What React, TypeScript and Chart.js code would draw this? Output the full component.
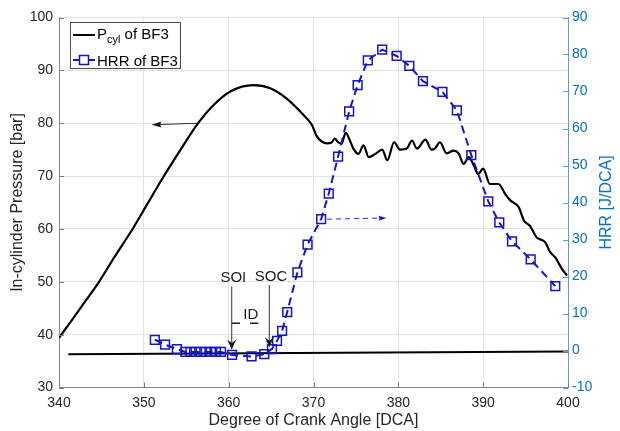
import React, { useEffect, useRef } from 'react';
import { Chart, registerables } from 'chart.js';

Chart.register(...registerables);

const FONT = "'Liberation Sans', Arial, Helvetica, sans-serif";
const TEXT = '#262626';
const AXIS_BLUE = '#0072BD';
const HRR_BLUE = '#1414cc';

// In-cylinder pressure of BF3 [bar] vs crank angle [DCA]
const pcylAngle = [
  340.0, 341.5, 343.0, 344.6, 346.5, 348.6, 350.3, 352.1, 354.3, 356.4, 358.2, 360.2, 362.9,
  364.9, 366.8, 368.8, 369.8, 370.4, 371.0, 371.6, 372.1, 372.5, 372.9, 373.3, 373.8, 374.3,
  374.7, 375.3, 375.9, 376.5, 377.3, 378.1, 378.7, 379.5, 380.2, 381.0, 381.6, 382.2, 383.2,
  383.9, 384.3, 384.9, 385.7, 386.5, 387.1, 387.7, 388.3, 388.9, 389.4, 390.0, 390.8, 391.8,
  392.6, 393.2, 394.2, 394.8, 395.5, 396.3, 397.3, 397.9, 398.5, 399.3, 399.9,
];
const pcylBar = [
  39.4, 42.7, 46.1, 49.7, 54.6, 59.8, 64.4, 69.3, 74.9, 80.0, 83.4, 86.0, 87.2,
  86.6, 84.7, 81.6, 79.7, 77.5, 76.5, 76.2, 76.3, 77.1, 76.4, 76.1, 78.2, 76.7,
  75.2, 74.2, 75.8, 73.6, 74.2, 75.0, 73.0, 76.4, 75.0, 75.2, 76.7, 75.2, 76.9,
  75.0, 75.2, 76.4, 74.3, 74.8, 74.3, 72.3, 73.6, 72.0, 70.4, 71.4, 68.5, 68.5,
  66.6, 65.4, 64.1, 61.6, 60.6, 58.4, 57.5, 55.6, 54.6, 52.4, 51.2,
];

// Heat release rate of BF3 [J/DCA]
const hrrAngle = [
  351.3, 352.5, 353.9, 354.9, 355.5, 356.1, 356.7, 357.3, 357.9, 358.5, 359.1, 360.4, 362.7,
  364.2, 365.1, 365.7, 366.3, 366.9, 368.1, 369.3, 370.9, 371.8, 372.9, 374.2, 375.2, 376.4,
  378.1, 379.8, 381.3, 382.9, 385.2, 386.9, 388.6, 390.6, 391.9, 393.4, 395.6, 398.5,
];
const hrrValue = [
  2.9, 1.6, 0.4, -0.4, -0.4, -0.4, -0.4, -0.4, -0.4, -0.4, -0.4, -1.2, -1.6,
  -1.0, 0.4, 2.6, 5.3, 10.4, 21.1, 28.6, 35.5, 42.4, 52.4, 64.6, 71.7, 78.4,
  81.3, 79.6, 76.9, 72.8, 69.9, 64.9, 52.8, 40.3, 34.6, 29.5, 24.6, 17.4,
];

// flat black reference line (left axis)
const refAngle = [341.1, 400];
const refBar = [36.3, 36.8];

// annotations (data coordinates)
const pArrowAngle = [356.4, 350.9];
const pArrowBar = [80.0, 79.7];
const hArrowAngle = [371.6, 378.6];
const hArrowHrr = [35.5, 35.8];
const soiAngle = 360.36;
const socAngle = 364.79;
const soiArrowBar = [49.1, 37.2];
const socArrowBar = [49.4, 37.6];
const soiLabel = [360.55, 50.7];
const socLabel = [364.99, 51.0];
const idLabel = [362.61, 43.8];
const idDashAngle = [360.36, 361.34, 362.52, 363.5];
const idDashBar = 42.15;

function drawArrow(ctx: CanvasRenderingContext2D, x0: number, y0: number, x1: number, y1: number,
  color: string, lw: number, headLen: number, headHalf: number, notch: number, dash: number[] = []) {
  const ang = Math.atan2(y1 - y0, x1 - x0);
  const c = Math.cos(ang), s = Math.sin(ang);
  const bx = x1 - c * headLen, by = y1 - s * headLen;
  ctx.save();
  ctx.strokeStyle = color;
  ctx.fillStyle = color;
  ctx.lineWidth = lw;
  ctx.setLineDash(dash);
  ctx.beginPath();
  ctx.moveTo(x0, y0);
  ctx.lineTo(x1 - c * headLen * 0.6, y1 - s * headLen * 0.6);
  ctx.stroke();
  ctx.setLineDash([]);
  ctx.beginPath();
  ctx.moveTo(x1, y1);
  ctx.lineTo(bx - s * headHalf, by + c * headHalf);
  ctx.lineTo(x1 - c * headLen * (1 - notch), y1 - s * headLen * (1 - notch));
  ctx.lineTo(bx + s * headHalf, by - c * headHalf);
  ctx.closePath();
  ctx.fill();
  ctx.restore();
}

const overlay = {
  id: 'overlay',
  afterDatasetsDraw(chart: any) {
    const ctx: CanvasRenderingContext2D = chart.ctx;
    const x = chart.scales.x, y = chart.scales.y, y1 = chart.scales.y1;
    const ca = chart.chartArea;
    ctx.save();

    // inward tick marks
    ctx.lineWidth = 1;
    ctx.strokeStyle = '#7a7a7a';
    x.ticks.forEach((t: any) => {
      const px = Math.round(x.getPixelForValue(t.value)) + 0.5;
      ctx.beginPath(); ctx.moveTo(px, ca.bottom); ctx.lineTo(px, ca.bottom - 5); ctx.stroke();
    });
    y.ticks.forEach((t: any) => {
      const py = Math.round(y.getPixelForValue(t.value)) + 0.5;
      ctx.beginPath(); ctx.moveTo(ca.left, py); ctx.lineTo(ca.left + 5, py); ctx.stroke();
    });
    ctx.strokeStyle = '#5aa0d4';
    y1.ticks.forEach((t: any) => {
      const py = Math.round(y1.getPixelForValue(t.value)) + 0.5;
      ctx.beginPath(); ctx.moveTo(ca.right, py); ctx.lineTo(ca.right - 5, py); ctx.stroke();
    });

    // pressure arrow (points to left axis)
    drawArrow(ctx, x.getPixelForValue(pArrowAngle[0]), y.getPixelForValue(pArrowBar[0]),
      x.getPixelForValue(pArrowAngle[1]), y.getPixelForValue(pArrowBar[1]), '#1a1a1a', 0.9, 10, 3, 0.15);
    // HRR arrow (points to right axis)
    drawArrow(ctx, x.getPixelForValue(hArrowAngle[0]), y1.getPixelForValue(hArrowHrr[0]),
      x.getPixelForValue(hArrowAngle[1]), y1.getPixelForValue(hArrowHrr[1]), HRR_BLUE, 0.9, 8, 2.5, 0.15, [5, 4]);
    // SOI / SOC arrows
    drawArrow(ctx, x.getPixelForValue(soiAngle), y.getPixelForValue(soiArrowBar[0]),
      x.getPixelForValue(soiAngle), y.getPixelForValue(soiArrowBar[1]), '#1a1a1a', 0.9, 10, 4.5, 0.35);
    drawArrow(ctx, x.getPixelForValue(socAngle), y.getPixelForValue(socArrowBar[0]),
      x.getPixelForValue(socAngle), y.getPixelForValue(socArrowBar[1]), '#1a1a1a', 0.9, 10, 4.5, 0.35);

    // labels
    ctx.fillStyle = '#1a1a1a';
    ctx.font = `15px ${FONT}`;
    ctx.textAlign = 'center';
    ctx.textBaseline = 'middle';
    ctx.fillText('SOI', x.getPixelForValue(soiLabel[0]), y.getPixelForValue(soiLabel[1]));
    ctx.fillText('SOC', x.getPixelForValue(socLabel[0]), y.getPixelForValue(socLabel[1]));
    ctx.fillText('ID', x.getPixelForValue(idLabel[0]), y.getPixelForValue(idLabel[1]));
    ctx.strokeStyle = '#1a1a1a';
    ctx.lineWidth = 1.6;
    const dy = y.getPixelForValue(idDashBar);
    ctx.beginPath();
    ctx.moveTo(x.getPixelForValue(idDashAngle[0]), dy); ctx.lineTo(x.getPixelForValue(idDashAngle[1]), dy);
    ctx.moveTo(x.getPixelForValue(idDashAngle[2]), dy); ctx.lineTo(x.getPixelForValue(idDashAngle[3]), dy);
    ctx.stroke();

    // right axis title (reads bottom to top)
    ctx.save();
    ctx.translate(606.5, (ca.top + ca.bottom) / 2);
    ctx.rotate(-Math.PI / 2);
    ctx.fillStyle = AXIS_BLUE;
    ctx.font = `16px ${FONT}`;
    ctx.textAlign = 'center';
    ctx.textBaseline = 'middle';
    ctx.fillText('HRR [J/DCA]', 0, 0);
    ctx.restore();

    // legend
    const lx = 70.5, ly = 22.5, lw = 110, lh = 46;
    ctx.fillStyle = '#ffffff';
    ctx.fillRect(lx, ly, lw, lh);
    ctx.strokeStyle = '#4d4d4d';
    ctx.lineWidth = 1;
    ctx.strokeRect(lx, ly, lw, lh);
    // row 1
    ctx.strokeStyle = '#000000';
    ctx.lineWidth = 2;
    ctx.beginPath(); ctx.moveTo(73, 35); ctx.lineTo(95, 35); ctx.stroke();
    ctx.fillStyle = '#000000';
    ctx.textAlign = 'left';
    ctx.textBaseline = 'alphabetic';
    ctx.font = `15px ${FONT}`;
    ctx.fillText('P', 97, 38.5);
    let cx = 97 + ctx.measureText('P').width;
    ctx.font = `11px ${FONT}`;
    ctx.fillText('cyl', cx, 43);
    cx += ctx.measureText('cyl').width;
    ctx.font = `15px ${FONT}`;
    ctx.fillText(' of BF3', cx, 38.5);
    // row 2
    ctx.strokeStyle = HRR_BLUE;
    ctx.lineWidth = 2;
    ctx.beginPath(); ctx.moveTo(73, 60); ctx.lineTo(79, 60); ctx.moveTo(89, 60); ctx.lineTo(95, 60); ctx.stroke();
    ctx.lineWidth = 1.5;
    ctx.strokeRect(79.5, 55.5, 9, 9);
    ctx.fillStyle = '#000000';
    ctx.fillText('HRR of BF3', 97, 65.5);

    ctx.restore();
  },
};

export default function App() {
  const ref = useRef<HTMLCanvasElement | null>(null);
  useEffect(() => {
    if (!ref.current) return;
    const chart = new Chart(ref.current, {
      type: 'line',
      data: {
        datasets: [
          {
            label: 'HRR of BF3',
            data: hrrAngle.map((a, i) => ({ x: a, y: hrrValue[i] })),
            yAxisID: 'y1',
            borderColor: HRR_BLUE,
            borderWidth: 2,
            borderDash: [8, 5],
            pointStyle: 'rect',
            pointRadius: 6.2,
            pointBorderWidth: 1.5,
            pointBorderColor: HRR_BLUE,
            pointBackgroundColor: 'rgba(0,0,0,0)',
            tension: 0,
            fill: false,
          },
          {
            label: 'Pcyl of BF3',
            data: pcylAngle.map((a, i) => ({ x: a, y: pcylBar[i] })),
            yAxisID: 'y',
            borderColor: '#000000',
            borderWidth: 2.2,
            pointRadius: 0,
            cubicInterpolationMode: 'monotone',
            fill: false,
          },
          {
            label: 'ref',
            data: refAngle.map((a, i) => ({ x: a, y: refBar[i] })),
            yAxisID: 'y',
            borderColor: '#000000',
            borderWidth: 2,
            pointRadius: 0,
            fill: false,
          },
        ],
      },
      options: {
        animation: false,
        responsive: false,
        devicePixelRatio: 1,
        layout: { padding: { top: 17.5, left: 0, right: 0, bottom: 0 } },
        plugins: { legend: { display: false }, tooltip: { enabled: false } },
        scales: {
          x: {
            type: 'linear',
            position: 'bottom',
            min: 340,
            max: 400,
            ticks: { stepSize: 10, color: TEXT, font: { family: FONT, size: 14 }, padding: 7, maxRotation: 0 },
            grid: { color: '#e2e2e2', lineWidth: 1, drawTicks: false },
            border: { color: '#8a8a8a', width: 1 },
            title: { display: true, text: 'Degree of Crank Angle [DCA]', color: TEXT, font: { family: FONT, size: 16 }, padding: { top: 0, bottom: 1 } },
            afterFit: (s: any) => { s.height = 43.5; },
          },
          y: {
            type: 'linear',
            position: 'left',
            min: 30,
            max: 100,
            ticks: { stepSize: 10, color: TEXT, font: { family: FONT, size: 14 }, padding: 6 },
            grid: { color: '#e2e2e2', lineWidth: 1, drawTicks: false },
            border: { color: '#8a8a8a', width: 1 },
            title: { display: true, text: 'In-cylinder Pressure [bar]', color: TEXT, font: { family: FONT, size: 16 }, padding: { top: 8, bottom: 0 } },
            afterFit: (s: any) => { s.width = 59; },
          },
          y1: {
            type: 'linear',
            position: 'right',
            min: -10,
            max: 90,
            ticks: { stepSize: 10, color: AXIS_BLUE, font: { family: FONT, size: 14 }, padding: 4 },
            grid: { display: false, drawTicks: false },
            border: { color: '#5aa0d4', width: 1 },
            title: { display: false },
            afterFit: (s: any) => { s.width = 52; },
          },
        },
      },
      plugins: [overlay],
    } as any);
    return () => chart.destroy();
  }, []);
  return (
    <div style={{ position: 'absolute', left: 0, top: 0, width: 620, height: 431, background: '#ffffff' }}>
      <canvas ref={ref} width={620} height={431} style={{ display: 'block' }} />
    </div>
  );
}
